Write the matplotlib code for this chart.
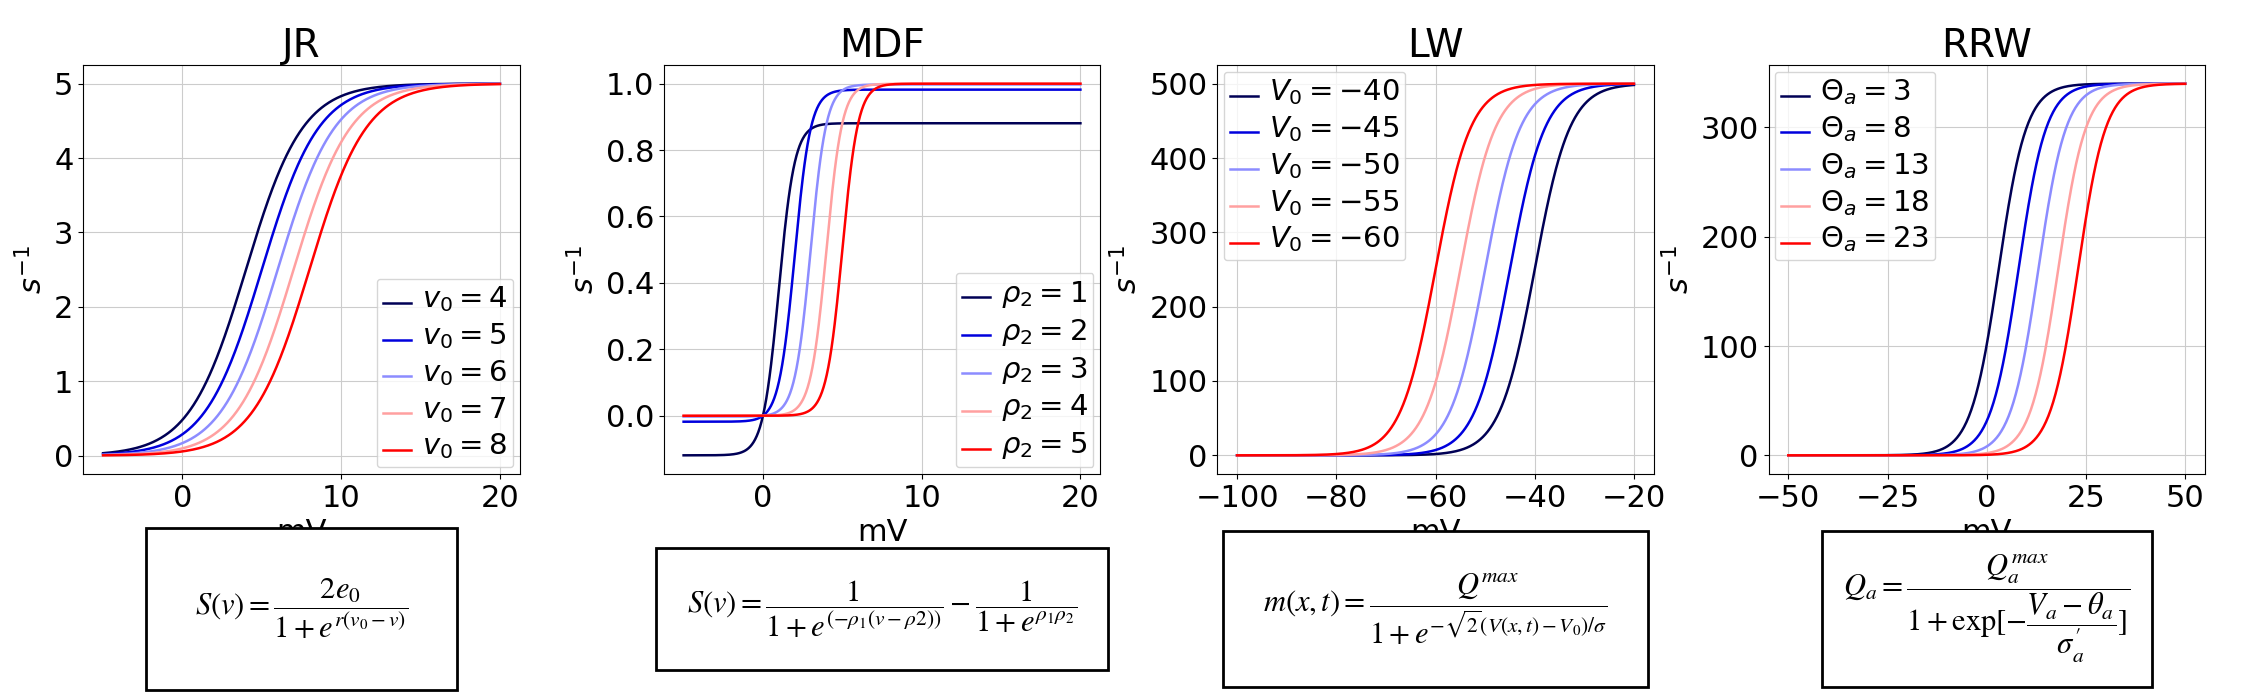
import numpy as np
import matplotlib
matplotlib.use("Agg")
import matplotlib.pyplot as plt

plt.rcParams["mathtext.fontset"] = "dejavusans"

colors = ["#000055", "#0000dd", "#8c8cff", "#ffa0a0", "#ff0000"]

# JR
jr_v0 = [4, 5, 6, 7, 8]
jr_e0, jr_r = 2.5, 0.56
# MDF
mdf_rho2 = [1, 2, 3, 4, 5]
mdf_rho1 = 2.0
# LW
lw_V0 = [-40, -45, -50, -55, -60]
lw_qmax, lw_sigma = 500.0, 5.0
# RRW
rrw_theta = [3, 8, 13, 18, 23]
rrw_qmax, rrw_sigma = 340.0, 3.5

fig = plt.figure(figsize=(22.5, 7), dpi=100)
lefts = [0.037, 0.295, 0.541, 0.786]
w, bot, h = 0.194, 0.323, 0.584
axes = [fig.add_axes([l, bot, w, h]) for l in lefts]

# ── JR ──
ax = axes[0]
v = np.linspace(-5, 20, 500)
for p, c in zip(jr_v0, colors):
    ax.plot(v, 2 * jr_e0 / (1 + np.exp(jr_r * (p - v))), color=c, lw=1.8, label=r"$v_0 = %d$" % p)
ax.set_title("JR")
ax.legend(loc="lower right")

# ── MDF ──
ax = axes[1]
for p, c in zip(mdf_rho2, colors):
    s = 1 / (1 + np.exp(-mdf_rho1 * (v - p))) - 1 / (1 + np.exp(mdf_rho1 * p))
    ax.plot(v, s, color=c, lw=1.8, label=r"$\rho_2 = %d$" % p)
ax.set_title("MDF")
ax.set_yticks([0, 0.2, 0.4, 0.6, 0.8, 1.0])
ax.legend(loc="lower right")

# ── LW ──
ax = axes[2]
x = np.linspace(-100, -20, 500)
for p, c in zip(lw_V0, colors):
    ax.plot(x, lw_qmax / (1 + np.exp(-np.sqrt(2) * (x - p) / lw_sigma)), color=c, lw=1.8,
            label=r"$V_0 = %d$" % p)
ax.set_title("LW")
ax.set_xticks([-100, -80, -60, -40, -20])
ax.legend(loc="upper left")

# ── RRW ──
ax = axes[3]
x = np.linspace(-50, 50, 500)
for p, c in zip(rrw_theta, colors):
    ax.plot(x, rrw_qmax / (1 + np.exp(-(x - p) / rrw_sigma)), color=c, lw=1.8,
            label=r"$\Theta_a = %d$" % p)
ax.set_title("RRW")
ax.set_xticks([-50, -25, 0, 25, 50])
ax.set_yticks([0, 100, 200, 300])
ax.legend(loc="upper left")

for ax in axes:
    ax.grid(True, color="#cccccc")
    ax.set_xlabel("mV", fontsize=22)
    ax.set_ylabel(r"$s^{-1}$", fontsize=22)
    ax.title.set_fontsize(28)
    ax.tick_params(labelsize=22)
    for t in ax.get_legend().get_texts():
        t.set_fontsize(21)

formulas = [
    r"$S(v) = \dfrac{2e_0}{1+e^{r(v_0-v)}}$",
    r"$S(v) = \dfrac{1}{1+e^{(-\rho_1(v-\rho 2))}} - \dfrac{1}{1+e^{\rho_1\rho_2}}$",
    r"$m(x,t) = \dfrac{Q^{max}}{1+e^{-\sqrt{2}(V(x,t)-V_0)/\sigma}}$",
    r"$Q_a = \dfrac{Q_a^{max}}{1+\exp[-\dfrac{V_a-\theta_a}{\sigma_a^{\prime}}]}$",
]
pads = [1.6, 1.0, 1.3, 0.7]
for l, f, pd in zip(lefts, formulas, pads):
    fig.text(l + w / 2, 0.13, f, ha="center", va="center", fontsize=22, math_fontfamily="stix",
             bbox=dict(boxstyle="square,pad=%.1f" % pd, fc="white", ec="black", lw=2))

fig.savefig("out.png", dpi=100)
